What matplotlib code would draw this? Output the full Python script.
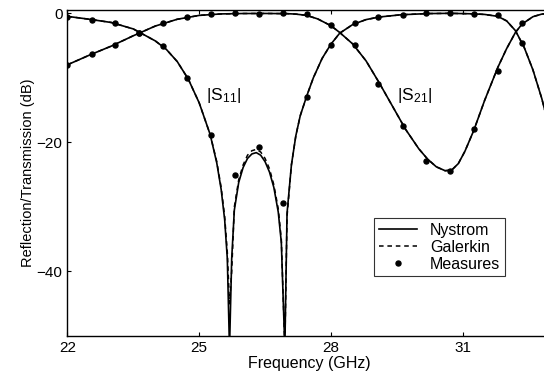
import matplotlib
matplotlib.use("Agg")
import matplotlib.pyplot as plt

plt.rcParams['font.family'] = ['Liberation Sans', 'DejaVu Sans']
plt.rcParams['mathtext.fontset'] = 'custom'
plt.rcParams['mathtext.rm'] = 'Liberation Sans'
plt.rcParams['mathtext.it'] = 'Liberation Sans'

# Nystrom |S11|
f_s11 = [22.0, 22.5, 23.0, 23.5, 24.0, 24.25, 24.5, 24.75, 25.0, 25.25, 25.4, 25.5,
         25.58, 25.64, 25.69, 25.74, 25.8, 25.9, 26.0, 26.1, 26.2, 26.3, 26.4, 26.5,
         26.6, 26.7, 26.8, 26.87, 26.95, 27.0, 27.1, 27.2, 27.3, 27.45, 27.6, 27.8,
         28.0, 28.2, 28.5, 28.8, 29.1, 29.6, 30.2, 30.7, 31.2, 31.5, 31.8, 32.0,
         32.2, 32.4, 32.6, 32.8, 33.0]
nys_s11 = [-0.5, -0.95, -1.45, -2.45, -4.3, -5.6, -7.5, -10.2, -13.9, -18.8, -23.2, -27.3,
           -32.0, -38.0, -52.0, -38.0, -30.5, -26.2, -23.9, -22.5, -21.8, -21.6, -22.0, -23.0,
           -24.6, -27.0, -30.8, -35.5, -52.0, -31.0, -23.5, -19.0, -15.9, -12.8, -10.0, -7.0,
           -4.8, -3.1, -1.75, -1.0, -0.6, -0.25, -0.07, -0.03, -0.1, -0.2, -0.5, -1.2,
           -2.7, -5.3, -8.8, -13.2, -18.5]
# Galerkin |S11|
gal_s11 = [-0.5, -0.95, -1.45, -2.45, -4.3, -5.6, -7.5, -10.2, -13.9, -18.8, -23.0, -27.0,
           -31.5, -37.0, -45.0, -40.0, -30.0, -25.8, -23.5, -22.0, -21.3, -21.1, -21.5, -22.5,
           -24.1, -26.6, -30.3, -35.0, -52.0, -31.5, -23.5, -19.0, -15.9, -12.8, -10.0, -7.0,
           -4.8, -3.1, -1.75, -1.0, -0.6, -0.25, -0.07, -0.03, -0.1, -0.2, -0.5, -1.2,
           -2.7, -5.3, -8.8, -13.2, -18.5]

# Nystrom / Galerkin |S21|
f_s21 = [22.0, 22.5, 23.0, 23.5, 24.0, 24.5, 25.0, 25.5, 26.0, 26.5, 27.0, 27.2, 27.45,
         27.7, 28.0, 28.2, 28.5, 28.8, 29.1, 29.4, 29.7, 30.0, 30.2, 30.4, 30.6, 30.75,
         30.9, 31.05, 31.25, 31.5, 31.8, 32.0, 32.2, 32.35, 32.6, 32.8, 33.0]
nys_s21 = [-8.0, -6.5, -5.1, -3.5, -2.0, -0.95, -0.35, -0.12, -0.06, -0.05, -0.08, -0.15, -0.35,
           -0.9, -1.95, -3.0, -4.8, -7.4, -10.8, -14.4, -18.0, -21.0, -22.6, -23.8, -24.4, -24.3,
           -23.3, -21.4, -18.2, -13.5, -8.4, -5.5, -3.0, -1.7, -0.55, -0.15, -0.02]
gal_s21 = [-8.0, -6.5, -5.1, -3.5, -2.0, -0.95, -0.35, -0.12, -0.06, -0.05, -0.08, -0.15, -0.35,
           -0.9, -1.95, -3.0, -4.8, -7.4, -10.8, -14.4, -18.0, -21.0, -22.6, -23.8, -24.4, -24.3,
           -23.3, -21.4, -18.2, -13.5, -8.4, -5.5, -3.0, -1.7, -0.55, -0.15, -0.02]

# measured points
f_meas = [22.0, 22.55, 23.09, 23.64, 24.18, 24.72, 25.27, 25.82, 26.36, 26.91, 27.45,
          27.99, 28.54, 29.08, 29.63, 30.17, 30.72, 31.26, 31.81, 32.35]
meas_s11 = [-0.6, -1.0, -1.5, -3.0, -5.1, -10.0, -18.9, -25.0, -20.7, -29.4, -13.0,
            -4.9, -1.6, -0.65, -0.25, -0.05, 0.0, -0.1, -0.35, -4.6]
meas_s21 = [-8.0, -6.4, -4.9, -3.0, -1.6, -0.6, -0.15, -0.05, -0.15, -0.05, -0.2,
            -1.85, -4.9, -10.9, -17.5, -22.9, -24.4, -18.0, -8.9, -1.6]

fig = plt.figure(figsize=(5.44, 3.81), dpi=100)
ax = fig.add_axes([0.124, 0.118, 0.888, 0.856])

ax.plot(f_s11, nys_s11, color='black', lw=1.2, label='Nystrom')
ax.plot(f_s21, nys_s21, color='black', lw=1.2)
ax.plot(f_s11, gal_s11, color='black', lw=1.1, ls=(0, (3, 2.5)), label='Galerkin')
ax.plot(f_s21, gal_s21, color='black', lw=1.1, ls=(0, (3, 2.5)))
ax.plot(f_meas, meas_s11, ls='none', marker='o', ms=3.6, color='black', label='Measures')
ax.plot(f_meas, meas_s21, ls='none', marker='o', ms=3.6, color='black')

ax.text(25.15, -12.7, r'|S$_{11}$|', fontsize=12.5, va='center', ha='left')
ax.text(29.5, -12.7, r'|S$_{21}$|', fontsize=12.5, va='center', ha='left')

ax.set_xlim(22, 33)
ax.set_ylim(-50, 0.5)
ax.set_xticks([22, 25, 28, 31])
ax.set_yticks([0, -20, -40])
ax.set_yticklabels(['0', '\u221220', '\u221240'])
ax.tick_params(direction='in', length=3, labelsize=11, top=True, right=True, width=0.8)
for s in ax.spines.values():
    s.set_linewidth(1.0)

ax.set_xlabel('Frequency (GHz)', fontsize=11.5, labelpad=1)
ax.set_ylabel('Reflection/Transmission (dB)', fontsize=10.5, labelpad=1)

leg = ax.legend(loc='upper left', bbox_to_anchor=(0.635, 0.362, 0.271, 0), mode='expand',
                fontsize=11.5, frameon=True, fancybox=False, handlelength=2.4,
                borderpad=0.3, labelspacing=0.12, handletextpad=0.8, borderaxespad=0)
leg.get_frame().set_edgecolor('black')
leg.get_frame().set_linewidth(0.8)

fig.savefig('out.png', dpi=100)
